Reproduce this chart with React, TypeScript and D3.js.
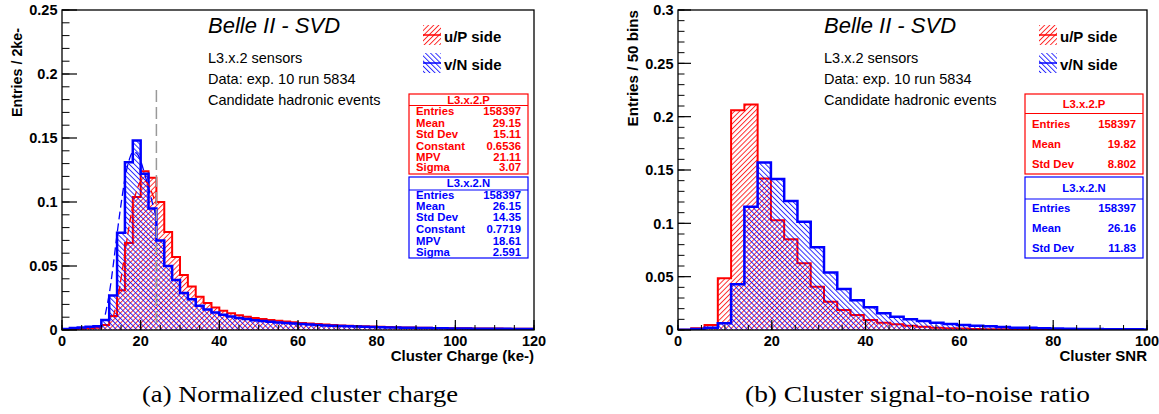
import { useEffect, useRef } from 'react';
import * as d3 from 'd3';

// ---- (a) normalized cluster charge, 2 ke- bins starting at 0 ----
const chargeBinWidth = 2;
const chargeP = [
  0.0003, 0.0006, 0.001, 0.0013, 0.0018, 0.004, 0.011, 0.031, 0.068, 0.104,
  0.124, 0.119, 0.1, 0.0765, 0.057, 0.043, 0.034, 0.026, 0.021, 0.0175,
  0.015, 0.013, 0.0115, 0.0103, 0.0093, 0.0085, 0.0078, 0.0072, 0.0066, 0.006,
  0.0055, 0.005, 0.0046, 0.0042, 0.0039, 0.0036, 0.0033, 0.0031, 0.0029, 0.0027,
  0.0025, 0.0023, 0.0022, 0.002, 0.0019, 0.0018, 0.0017, 0.0016, 0.0015, 0.0014,
  0.0013, 0.0013, 0.0012, 0.0012, 0.0011, 0.0011, 0.001, 0.001, 0.001, 0.0009,
];
const chargeN = [
  0.0008, 0.0015, 0.002, 0.0025, 0.003, 0.0078, 0.027, 0.076, 0.131, 0.148,
  0.122, 0.095, 0.07, 0.05, 0.039, 0.029, 0.024, 0.019, 0.016, 0.0137,
  0.012, 0.0105, 0.0094, 0.0085, 0.0077, 0.007, 0.0064, 0.0059, 0.0054, 0.005,
  0.0046, 0.0042, 0.0039, 0.0036, 0.0033, 0.0031, 0.0029, 0.0027, 0.0025, 0.0023,
  0.0021, 0.002, 0.0019, 0.0018, 0.0017, 0.0016, 0.0015, 0.0014, 0.0013, 0.0012,
  0.0012, 0.0011, 0.001, 0.001, 0.0009, 0.0009, 0.0009, 0.0008, 0.0008, 0.0008,
];

// Landau fits [ke-, entries]
const chargeFitP = [
  [13, 0.01], [14, 0.022], [15, 0.04], [16, 0.06], [17, 0.08], [18, 0.097],
  [19, 0.109], [20, 0.116], [21, 0.117], [22, 0.113], [23, 0.106], [24, 0.098],
];
const chargeFitN = [
  [11, 0.012], [12, 0.028], [13, 0.05], [14, 0.075], [15, 0.098], [16, 0.118],
  [17, 0.132], [18, 0.139], [19, 0.138], [20, 0.132], [21, 0.122], [22, 0.111],
  [23, 0.099], [24, 0.088],
];
const chargeMarker = [24, 0.1875]; // grey dashed line

// ---- (b) cluster SNR ----
const snrBinWidth = 2.83;
const snrP = [
  0.0003, 0.0016, 0.0047, 0.0484, 0.206, 0.2115, 0.142, 0.103, 0.085, 0.0625,
  0.0406, 0.0266, 0.0188, 0.014, 0.0094, 0.0069, 0.0053, 0.004, 0.0031, 0.0022,
  0.0017, 0.0013, 0.001, 0.0008, 0.0006, 0.0005, 0.0004, 0.0003, 0.0003, 0.0002,
  0.0002, 0.0001, 0.0001, 0.0001, 0.0001, 0.0001,
];
const snrN = [
  0.0003, 0.001, 0.002, 0.0063, 0.043, 0.1156, 0.157, 0.1416, 0.121, 0.1016,
  0.0775, 0.054, 0.0384, 0.028, 0.0213, 0.0156, 0.0125, 0.01, 0.0084, 0.0069,
  0.0056, 0.0047, 0.004, 0.0034, 0.0028, 0.0022, 0.002, 0.0017, 0.0014, 0.0012,
  0.001, 0.0009, 0.0008, 0.0007, 0.0006, 0.0005,
];

const chargeXTicks = [0, 20, 40, 60, 80, 100, 120];
const chargeYTicks = [0, 0.05, 0.1, 0.15, 0.2, 0.25];
const snrXTicks = [0, 20, 40, 60, 80, 100];
const snrYTicks = [0, 0.05, 0.1, 0.15, 0.2, 0.25, 0.3];

const infoLines = ['L3.x.2 sensors', 'Data: exp. 10 run 5834', 'Candidate hadronic events'];
const legendLabels = ['u/P side', 'v/N side'];

const chargeStatsP = [['Entries', '158397'], ['Mean', '29.15'], ['Std Dev', '15.11'], ['Constant', '0.6536'], ['MPV', '21.11'], ['Sigma', '3.07']];
const chargeStatsN = [['Entries', '158397'], ['Mean', '26.15'], ['Std Dev', '14.35'], ['Constant', '0.7719'], ['MPV', '18.61'], ['Sigma', '2.591']];
const snrStatsP = [['Entries', '158397'], ['Mean', '19.82'], ['Std Dev', '8.802']];
const snrStatsN = [['Entries', '158397'], ['Mean', '26.16'], ['Std Dev', '11.83']];

const RED = '#ff0000';
const BLUE = '#0000ff';
const SANS = '"Liberation Sans", Arial, Helvetica, sans-serif';

const App = () => {
  const svgRef = useRef(null);

  useEffect(() => {
    document.body.style.margin = '0';
    const svg = d3.select(svgRef.current);
    svg.selectAll('*').remove();

    const defs = svg.append('defs');
    // ROOT-style hatching: red "/" and blue "\"
    const hatch = (id, color, angle) => {
      const p = defs.append('pattern')
        .attr('id', id)
        .attr('patternUnits', 'userSpaceOnUse')
        .attr('width', 3.6)
        .attr('height', 10)
        .attr('patternTransform', `rotate(${angle})`);
      p.append('line')
        .attr('x1', 0.5).attr('y1', 0).attr('x2', 0.5).attr('y2', 10)
        .attr('stroke', color).attr('stroke-width', 0.85);
    };
    hatch('hatchP', RED, 45);
    hatch('hatchN', BLUE, -45);

    const drawPanel = (cfg) => {
      const { id, left, right, xMax, yMax, xTicks, yTicks, yMinor, yTickLen, xTickLen } = cfg;
      const top = 10;
      const bottom = 330;
      const x = d3.scaleLinear().domain([0, xMax]).range([left, right]);
      const y = d3.scaleLinear().domain([0, yMax]).range([bottom, top]);
      const g = svg.append('g');

      defs.append('clipPath').attr('id', `clip-${id}`)
        .append('rect')
        .attr('x', left).attr('y', top)
        .attr('width', right - left).attr('height', bottom - top);

      const plot = g.append('g').attr('clip-path', `url(#clip-${id})`);
      const line = d3.line().x(d => x(d[0])).y(d => y(d[1]));

      const stepPoints = (vals, bw) => {
        const pts = [[0, 0]];
        vals.forEach((v, i) => {
          pts.push([i * bw, v]);
          pts.push([(i + 1) * bw, v]);
        });
        pts.push([vals.length * bw, 0]);
        return pts;
      };

      const hist = (vals, bw, fill, color, width) => {
        const pts = stepPoints(vals, bw);
        plot.append('path')
          .attr('d', line(pts) + 'Z')
          .attr('fill', `url(#${fill})`)
          .attr('stroke', 'none');
        plot.append('path')
          .attr('d', line(pts))
          .attr('fill', 'none')
          .attr('stroke', color)
          .attr('stroke-width', width)
          .attr('stroke-linejoin', 'miter');
      };

      hist(cfg.p, cfg.binWidth, 'hatchP', RED, 2);
      hist(cfg.n, cfg.binWidth, 'hatchN', BLUE, 2.5);

      if (cfg.fits) {
        const curve = d3.line().x(d => x(d[0])).y(d => y(d[1])).curve(d3.curveCatmullRom);
        plot.append('path').attr('d', curve(cfg.fits[0]))
          .attr('fill', 'none').attr('stroke', RED).attr('stroke-width', 1.3)
          .attr('stroke-dasharray', '8,4');
        plot.append('path').attr('d', curve(cfg.fits[1]))
          .attr('fill', 'none').attr('stroke', BLUE).attr('stroke-width', 1.3)
          .attr('stroke-dasharray', '8,4');
      }
      if (cfg.marker) {
        plot.append('line')
          .attr('x1', x(cfg.marker[0])).attr('x2', x(cfg.marker[0]))
          .attr('y1', y(cfg.marker[1])).attr('y2', y(0))
          .attr('stroke', '#999').attr('stroke-width', 1.5)
          .attr('stroke-dasharray', '12,5');
      }

      // frame
      g.append('rect')
        .attr('x', left).attr('y', top)
        .attr('width', right - left).attr('height', bottom - top)
        .attr('fill', 'none').attr('stroke', '#000').attr('stroke-width', 1.3);

      // y ticks
      const yMinorTicks = d3.range(0, yMax + 1e-9, yMinor);
      g.selectAll(null).data(yMinorTicks).enter().append('line')
        .attr('x1', left).attr('x2', left + yTickLen / 2)
        .attr('y1', d => y(d)).attr('y2', d => y(d))
        .attr('stroke', '#000').attr('stroke-width', 1);
      g.selectAll(null).data(yTicks).enter().append('line')
        .attr('x1', left).attr('x2', left + yTickLen)
        .attr('y1', d => y(d)).attr('y2', d => y(d))
        .attr('stroke', '#000').attr('stroke-width', 1.2);
      g.selectAll(null).data(yTicks).enter().append('text')
        .attr('x', left - 4.5)
        .attr('y', d => y(d))
        .attr('dy', '0.36em')
        .attr('text-anchor', 'end')
        .style('font-family', SANS).style('font-weight', 'bold').style('font-size', '14.5px')
        .text(d => d3.format('~g')(d));

      // x ticks
      const xMinorTicks = d3.range(0, xMax + 1e-9, 5);
      g.selectAll(null).data(xMinorTicks).enter().append('line')
        .attr('x1', d => x(d)).attr('x2', d => x(d))
        .attr('y1', bottom).attr('y2', bottom - xTickLen / 2)
        .attr('stroke', '#000').attr('stroke-width', 1);
      g.selectAll(null).data(xTicks).enter().append('line')
        .attr('x1', d => x(d)).attr('x2', d => x(d))
        .attr('y1', bottom).attr('y2', bottom - xTickLen)
        .attr('stroke', '#000').attr('stroke-width', 1.2);
      g.selectAll(null).data(xTicks).enter().append('text')
        .attr('x', d => x(d))
        .attr('y', 346)
        .attr('text-anchor', 'middle')
        .style('font-family', SANS).style('font-weight', 'bold').style('font-size', '14.5px')
        .text(d => d);

      // axis titles
      g.append('text')
        .attr('x', right).attr('y', 361)
        .attr('text-anchor', 'end')
        .style('font-family', SANS).style('font-weight', 'bold').style('font-size', '15px')
        .text(cfg.xTitle);
      g.append('text')
        .attr('transform', `translate(${cfg.yTitlePos[0]},${cfg.yTitlePos[1]}) rotate(-90)`)
        .attr('text-anchor', 'end')
        .style('font-family', SANS).style('font-weight', 'bold').style('font-size', cfg.yTitleSize)
        .text(cfg.yTitle);

      // labels
      const ox = left + 146;
      g.append('text')
        .attr('x', ox).attr('y', 33)
        .style('font-family', SANS).style('font-style', 'italic').style('font-size', '22px')
        .text('Belle II - SVD');
      g.selectAll(null).data(infoLines).enter().append('text')
        .attr('x', ox).attr('y', (d, i) => 63 + i * 21)
        .style('font-family', SANS).style('font-size', '14.5px')
        .text(d => d);

      // legend
      const lx = left + 361;
      legendLabels.forEach((label, i) => {
        const ly = 25 + i * 28;
        const color = i === 0 ? RED : BLUE;
        g.append('rect')
          .attr('x', lx).attr('y', ly).attr('width', 18).attr('height', 20)
          .attr('fill', `url(#${i === 0 ? 'hatchP' : 'hatchN'})`);
        g.append('line')
          .attr('x1', lx).attr('x2', lx + 18).attr('y1', ly + 10).attr('y2', ly + 10)
          .attr('stroke', color).attr('stroke-width', 1.5);
        g.append('text')
          .attr('x', lx + 21).attr('y', ly + 16.5)
          .style('font-family', SANS).style('font-weight', 'bold').style('font-size', '15px')
          .text(label);
      });

      // stats boxes
      const sx = left + 347;
      cfg.stats.forEach((box) => {
        const color = box.color;
        const sg = g.append('g');
        sg.append('rect')
          .attr('x', sx).attr('y', box.top).attr('width', cfg.statsW).attr('height', box.h)
          .attr('fill', '#fff').attr('stroke', color).attr('stroke-width', 1.2);
        sg.append('line')
          .attr('x1', sx).attr('x2', sx + cfg.statsW)
          .attr('y1', box.divider).attr('y2', box.divider)
          .attr('stroke', color).attr('stroke-width', 1.2);
        const font = (s) => s.style('font-family', SANS).style('font-weight', 'bold')
          .style('font-size', '11.3px').attr('fill', color);
        font(sg.append('text')
          .attr('x', sx + cfg.statsW / 2).attr('y', box.titleY)
          .attr('text-anchor', 'middle')
          .text(box.title));
        box.rows.forEach((r, i) => {
          font(sg.append('text').attr('x', sx + 7).attr('y', box.rowY[i]).text(r[0]));
          font(sg.append('text').attr('x', sx + cfg.statsW - 7).attr('y', box.rowY[i])
            .attr('text-anchor', 'end').text(r[1]));
        });
      });
    };

    drawPanel({
      id: 'charge', left: 62, right: 534, xMax: 120, yMax: 0.25,
      xTicks: chargeXTicks, yTicks: chargeYTicks, yMinor: 0.01, yTickLen: 15, xTickLen: 10,
      binWidth: chargeBinWidth, p: chargeP, n: chargeN,
      fits: [chargeFitP, chargeFitN], marker: chargeMarker,
      xTitle: 'Cluster Charge (ke-)', yTitle: 'Entries / 2ke-', yTitlePos: [22, 28], yTitleSize: '14.3px',
      statsW: 119,
      stats: [
        { color: RED, title: 'L3.x.2.P', rows: chargeStatsP, top: 94, h: 80, titleY: 104, divider: 105.5,
          rowY: [114.5, 127, 138, 149.5, 161, 171] },
        { color: BLUE, title: 'L3.x.2.N', rows: chargeStatsN, top: 177, h: 81, titleY: 187, divider: 190,
          rowY: [198.5, 210, 221, 233, 244.5, 255.5] },
      ],
    });

    drawPanel({
      id: 'snr', left: 678, right: 1147, xMax: 100, yMax: 0.3,
      xTicks: snrXTicks, yTicks: snrYTicks, yMinor: 0.01, yTickLen: 13, xTickLen: 10,
      binWidth: snrBinWidth, p: snrP, n: snrN,
      xTitle: 'Cluster SNR', yTitle: 'Entries / 50 bins', yTitlePos: [638, 10], yTitleSize: '15.2px',
      statsW: 118,
      stats: [
        { color: RED, title: 'L3.x.2.P', rows: snrStatsP, top: 94, h: 80, titleY: 107.5, divider: 113.5,
          rowY: [128, 148, 168] },
        { color: BLUE, title: 'L3.x.2.N', rows: snrStatsN, top: 177, h: 81, titleY: 192, divider: 199,
          rowY: [212, 232, 252] },
      ],
    });

    // sub-figure captions
    const captions = [
      { text: '(a) Normalized cluster charge', cx: 300, w: 316 },
      { text: '(b) Cluster signal-to-noise ratio', cx: 917.5, w: 345 },
    ];
    svg.selectAll('.caption').data(captions).enter().append('text')
      .attr('class', 'caption')
      .attr('x', d => d.cx - d.w / 2)
      .attr('y', 402)
      .attr('textLength', d => d.w)
      .attr('lengthAdjust', 'spacingAndGlyphs')
      .style('font-family', '"Liberation Serif", "Times New Roman", serif')
      .style('font-size', '23px')
      .text(d => d.text);
  }, []);

  return (
    <svg ref={svgRef} width={1159} height={414} style={{ display: 'block', background: '#fff' }} />
  );
};

export default App;
